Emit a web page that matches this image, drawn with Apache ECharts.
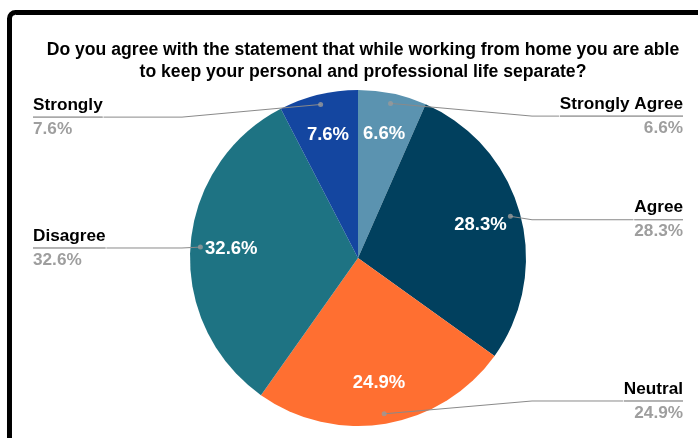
<!DOCTYPE html>
<html>
<head>
<meta charset="utf-8">
<style>
  html, body { margin: 0; padding: 0; background: #fff; }
  #chart { width: 698px; height: 438px; }
</style>
<script src="https://cdn.jsdelivr.net/npm/echarts@6/dist/echarts.min.js"></script>
</head>
<body>
<div id="chart"></div>
<script>
// Survey answers, clockwise from the top
const categories = ['Strongly Agree', 'Agree', 'Neutral', 'Disagree', 'Strongly'];
const shares = [6.6, 28.3, 24.9, 32.6, 7.6];
const sliceColors = ['#5b93b0', '#01405e', '#ff6f31', '#1e7383', '#1446a0'];
const titleLines = [
  'Do you agree with the statement that while working from home you are able',
  'to keep your personal and professional life separate?'
];

const CX = 358, CY = 258, R = 168;
const ANCHOR_R = 158;   // where leader lines start inside the slices
const FONT = '"Liberation Sans", Arial, sans-serif';

const total = shares.reduce((a, b) => a + b, 0);
let acc = 0;
const anchorPoints = shares.map(v => {
  const mid = acc + v / 2;
  acc += v;
  return [ANCHOR_R, (mid / total) * 100];
});

const pieData = categories.map((name, i) => ({
  name: name,
  value: shares[i],
  itemStyle: { color: sliceColors[i] }
}));

const outerData = categories.map((name, i) => {
  const item = { name: name, value: shares[i] };
  if (name === 'Disagree' || name === 'Strongly') {
    item.label = { edgeDistance: 33 };
  }
  return item;
});

const chart = echarts.init(document.getElementById('chart'), null, { renderer: 'canvas' });

chart.setOption({
  animation: false,
  backgroundColor: '#ffffff',
  title: {
    text: titleLines.join('\n'),
    left: CX,
    top: 34,
    textAlign: 'center',
    textStyle: {
      fontFamily: FONT,
      fontSize: 17.6,
      fontWeight: 'bold',
      color: '#000',
      lineHeight: 22
    }
  },
  graphic: [{
    type: 'rect',
    silent: true,
    shape: { x: 9.5, y: 12.5, width: 900, height: 700, r: 6 },
    style: { fill: 'none', stroke: '#000', lineWidth: 5 }
  }],
  polar: { center: [CX, CY], radius: R },
  angleAxis: { type: 'value', min: 0, max: 100, startAngle: 90, clockwise: true, show: false },
  radiusAxis: { type: 'value', min: 0, max: R, show: false },
  series: [
    {
      // slices
      type: 'pie',
      center: [CX, CY],
      radius: R,
      startAngle: 90,
      clockwise: true,
      silent: true,
      label: { show: false },
      labelLine: { show: false },
      itemStyle: { borderWidth: 0 },
      data: pieData
    },
    {
      // percentage inside each slice
      type: 'pie',
      center: [CX, CY],
      radius: [80, R],
      startAngle: 90,
      silent: true,
      itemStyle: { color: 'transparent' },
      label: {
        show: true,
        position: 'inside',
        formatter: p => p.value.toFixed(1) + '%',
        fontFamily: FONT,
        fontSize: 18.5,
        fontWeight: 'bold',
        color: '#ffffff'
      },
      labelLine: { show: false },
      data: shares.map((v, i) => ({ name: categories[i], value: v }))
    },
    {
      // outside labels with leader lines
      type: 'pie',
      center: [CX, CY],
      radius: ANCHOR_R,
      startAngle: 90,
      silent: true,
      z: 3,
      itemStyle: { color: 'transparent' },
      avoidLabelOverlap: true,
      label: {
        show: true,
        position: 'outside',
        alignTo: 'edge',
        edgeDistance: 15,
        distanceToLabelLine: 0,
        formatter: p => '{n|' + p.name + '}\n{hr|}\n{v|' + p.value.toFixed(1) + '%}',
        rich: {
          n: { fontFamily: FONT, fontSize: 17.2, fontWeight: 'bold', color: '#000', lineHeight: 24 },
          hr: { borderColor: '#8a8a8a', borderWidth: 0.8, width: '100%', height: 0 },
          v: { fontFamily: FONT, fontSize: 17.2, fontWeight: 'bold', color: '#9e9e9e', lineHeight: 24 }
        }
      },
      labelLine: {
        show: true,
        showAbove: true,
        length: -13,
        length2: 0,
        lineStyle: { color: '#8a8a8a', width: 1 }
      },
      labelLayout: function (params) {
        const pts = params.labelLinePoints;
        if (!pts || pts.length < 3) return {};
        const p0 = pts[0], p2 = pts[2];
        const bendX = p2[0] > CX ? CX + R + 6 : CX - R - 8;
        return { labelLinePoints: [p0, [bendX, p2[1]], p2] };
      },
      data: outerData
    },
    {
      // leader line anchor dots
      type: 'scatter',
      coordinateSystem: 'polar',
      silent: true,
      z: 4,
      symbol: 'circle',
      symbolSize: 5,
      itemStyle: { color: '#9a9a9a' },
      data: anchorPoints
    }
  ]
});
</script>
</body>
</html>
